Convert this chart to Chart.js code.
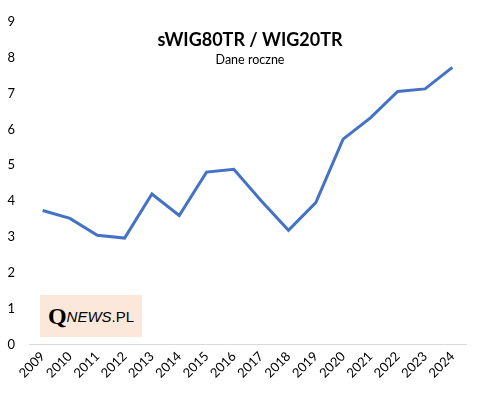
<!DOCTYPE html>
<html>
<head>
<meta charset="utf-8">
<script src="https://cdn.jsdelivr.net/npm/chart.js@4"></script>
<style>
    html, body { margin: 0; padding: 0; background: #fff; }
    #wrap { position: relative; width: 482px; height: 395px; }
    #title {
        position: absolute; left: 0; width: 500px; top: 28px;
        text-align: center; font: bold 18px Lato, sans-serif; color: #000;
    }
    #subtitle {
        position: absolute; left: 0; width: 500px; top: 52px;
        text-align: center; font: 12.5px Lato, sans-serif; color: #000;
    }
    #logo {
        position: absolute; left: 40px; top: 295px; width: 102px; height: 42px;
        background: #fce8da; display: flex; align-items: center; justify-content: center;
        color: #000;
    }
    #logo .q { font: bold 24px "Liberation Serif", serif; }
    #logo .n { font: italic 15px "Liberation Sans", sans-serif; }
    #logo .p { font: 15px "Liberation Sans", sans-serif; }
</style>
</head>
<body>
<div id="wrap">
    <canvas id="chart" width="482" height="395"></canvas>
    <div id="title">sWIG80TR / WIG20TR</div>
    <div id="subtitle">Dane roczne</div>
    <div id="logo"><span class="q">Q</span><span class="n">NEWS</span><span class="p">.PL</span></div>
</div>
<script>
const years = ["2009", "2010", "2011", "2012", "2013", "2014", "2015", "2016",
    "2017", "2018", "2019", "2020", "2021", "2022", "2023", "2024"];
const ratio = [3.74, 3.52, 3.05, 2.97, 4.20, 3.60, 4.81, 4.89,
    4.01, 3.19, 3.96, 5.73, 6.32, 7.06, 7.13, 7.73];
const yTicks = [0, 1, 2, 3, 4, 5, 6, 7, 8, 9];

const ctx = document.getElementById("chart").getContext("2d");
new Chart(ctx, {
    type: "line",
    data: {
        labels: years,
        datasets: [
            {
                label: "sWIG80TR / WIG20TR",
                data: ratio,
                borderColor: "#4472C4",
                backgroundColor: "#4472C4",
                borderWidth: 3,
                tension: 0,
                pointRadius: 0,
                fill: false
            }
        ]
    },
    options: {
        responsive: false,
        animation: false,
        layout: { padding: { left: 5, right: 16, top: 8, bottom: 10 } },
        plugins: {
            legend: { display: false },
            tooltip: { enabled: false }
        },
        scales: {
            x: {
                offset: true,
                grid: { display: false, drawTicks: false },
                border: { display: true, color: "#d9d9d9", width: 1 },
                ticks: {
                    autoSkip: false,
                    minRotation: 45,
                    maxRotation: 45,
                    padding: 4,
                    color: "#000",
                    font: { family: "Lato", size: 13 }
                }
            },
            y: {
                min: 0,
                max: 9,
                afterBuildTicks: (axis) => { axis.ticks = yTicks.map(v => ({ value: v })); },
                grid: { display: false, drawTicks: false },
                border: { display: false },
                ticks: {
                    padding: 14,
                    color: "#000",
                    font: { family: "Lato", size: 13 }
                },
                afterFit: (axis) => { axis.width = 24; }
            }
        }
    }
});
</script>
</body>
</html>
